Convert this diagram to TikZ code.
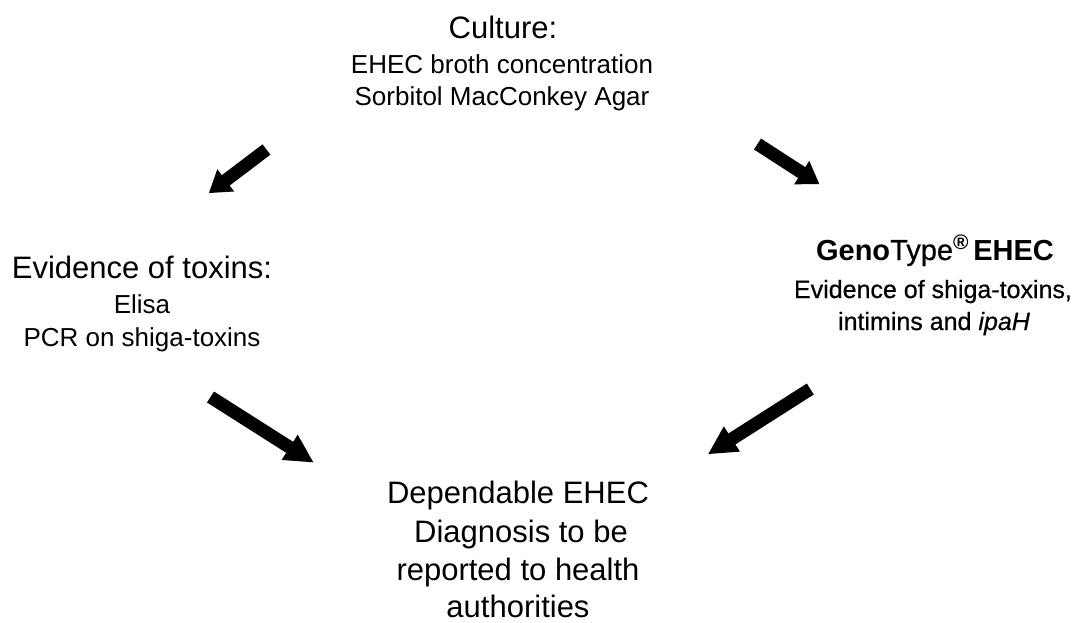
\documentclass[tikz,border=0pt]{standalone}
\usepackage{fontspec}
\setmainfont{Liberation Sans}
\newfontfamily\medfont[FakeBold=0.6]{Liberation Sans}
\usetikzlibrary{calc}
\tikzset{
  big/.style={anchor=base, inner sep=0pt, font=\fontsize{31}{31}\selectfont},
  small/.style={anchor=base, inner sep=0pt, font=\fontsize{26}{26}\selectfont},
  geno/.style={anchor=base, inner sep=0pt, font=\fontsize{29}{29}\selectfont},
  med/.style={anchor=base, inner sep=0pt, font=\fontsize{25}{25}\medfont},
  shaft/.style={line width=13pt, black},
}
\newcommand{\blockarrow}[4]{% tail, tip, head length, head half-width
  \draw[shaft] (#1) -- ($(#2)!#3-1pt!(#1)$);
  \fill[black] (#2) -- ($(#2)!#3!(#1)!#4!90:(#1)$) -- ($(#2)!#3!(#1)!#4!-90:(#1)$) -- cycle;
}
\begin{document}
\begin{tikzpicture}[x=1pt,y=-1pt]
\useasboundingbox (0,0) rectangle (1085,622);
% top
\node[big] (culture) at (503,38) {Culture:};
\node[small] (broth) at (502,73) {EHEC broth concentration};
\node[small] (smac) at (502,105) {Sorbitol MacConkey Agar};
% left
\node[big] (evtox) at (142,278) {Evidence of toxins:};
\node[small] (elisa) at (142,313) {Elisa};
\node[small] (pcr) at (142,346) {PCR on shiga-toxins};
% right
\node[geno] (genotype) at (935,260) {\textbf{Geno}{\medfont Type}\raisebox{0.36em}{\fontsize{21}{21}\selectfont\bfseries ®}\,\textbf{EHEC}};
\node[med] (evshiga) at (933,298) {Evidence of shiga-toxins,};
\node[med] (intimins) at (934,330) {intimins and \textit{ipaH}};
% bottom
\node[big] (dep) at (518,503) {Dependable EHEC};
\node[big] (diag) at (521,542) {Diagnosis to be};
\node[big] (rep) at (518,580) {reported to health};
\node[big, text depth=0pt] (auth) at (518,617) {authorities};
% arrows
\coordinate (a1s) at (266.5,149.5); \coordinate (a1e) at (209,193);
\coordinate (a2s) at (757.5,144);   \coordinate (a2e) at (819.3,184);
\coordinate (a3s) at (210.5,397);   \coordinate (a3e) at (313.3,462.3);
\coordinate (a4s) at (810.3,389);   \coordinate (a4e) at (708.3,454);
\blockarrow{a1s}{a1e}{21pt}{14pt}
\blockarrow{a2s}{a2e}{21pt}{14pt}
\blockarrow{a3s}{a3e}{28pt}{15pt}
\blockarrow{a4s}{a4e}{28pt}{15pt}
\end{tikzpicture}
\end{document}
